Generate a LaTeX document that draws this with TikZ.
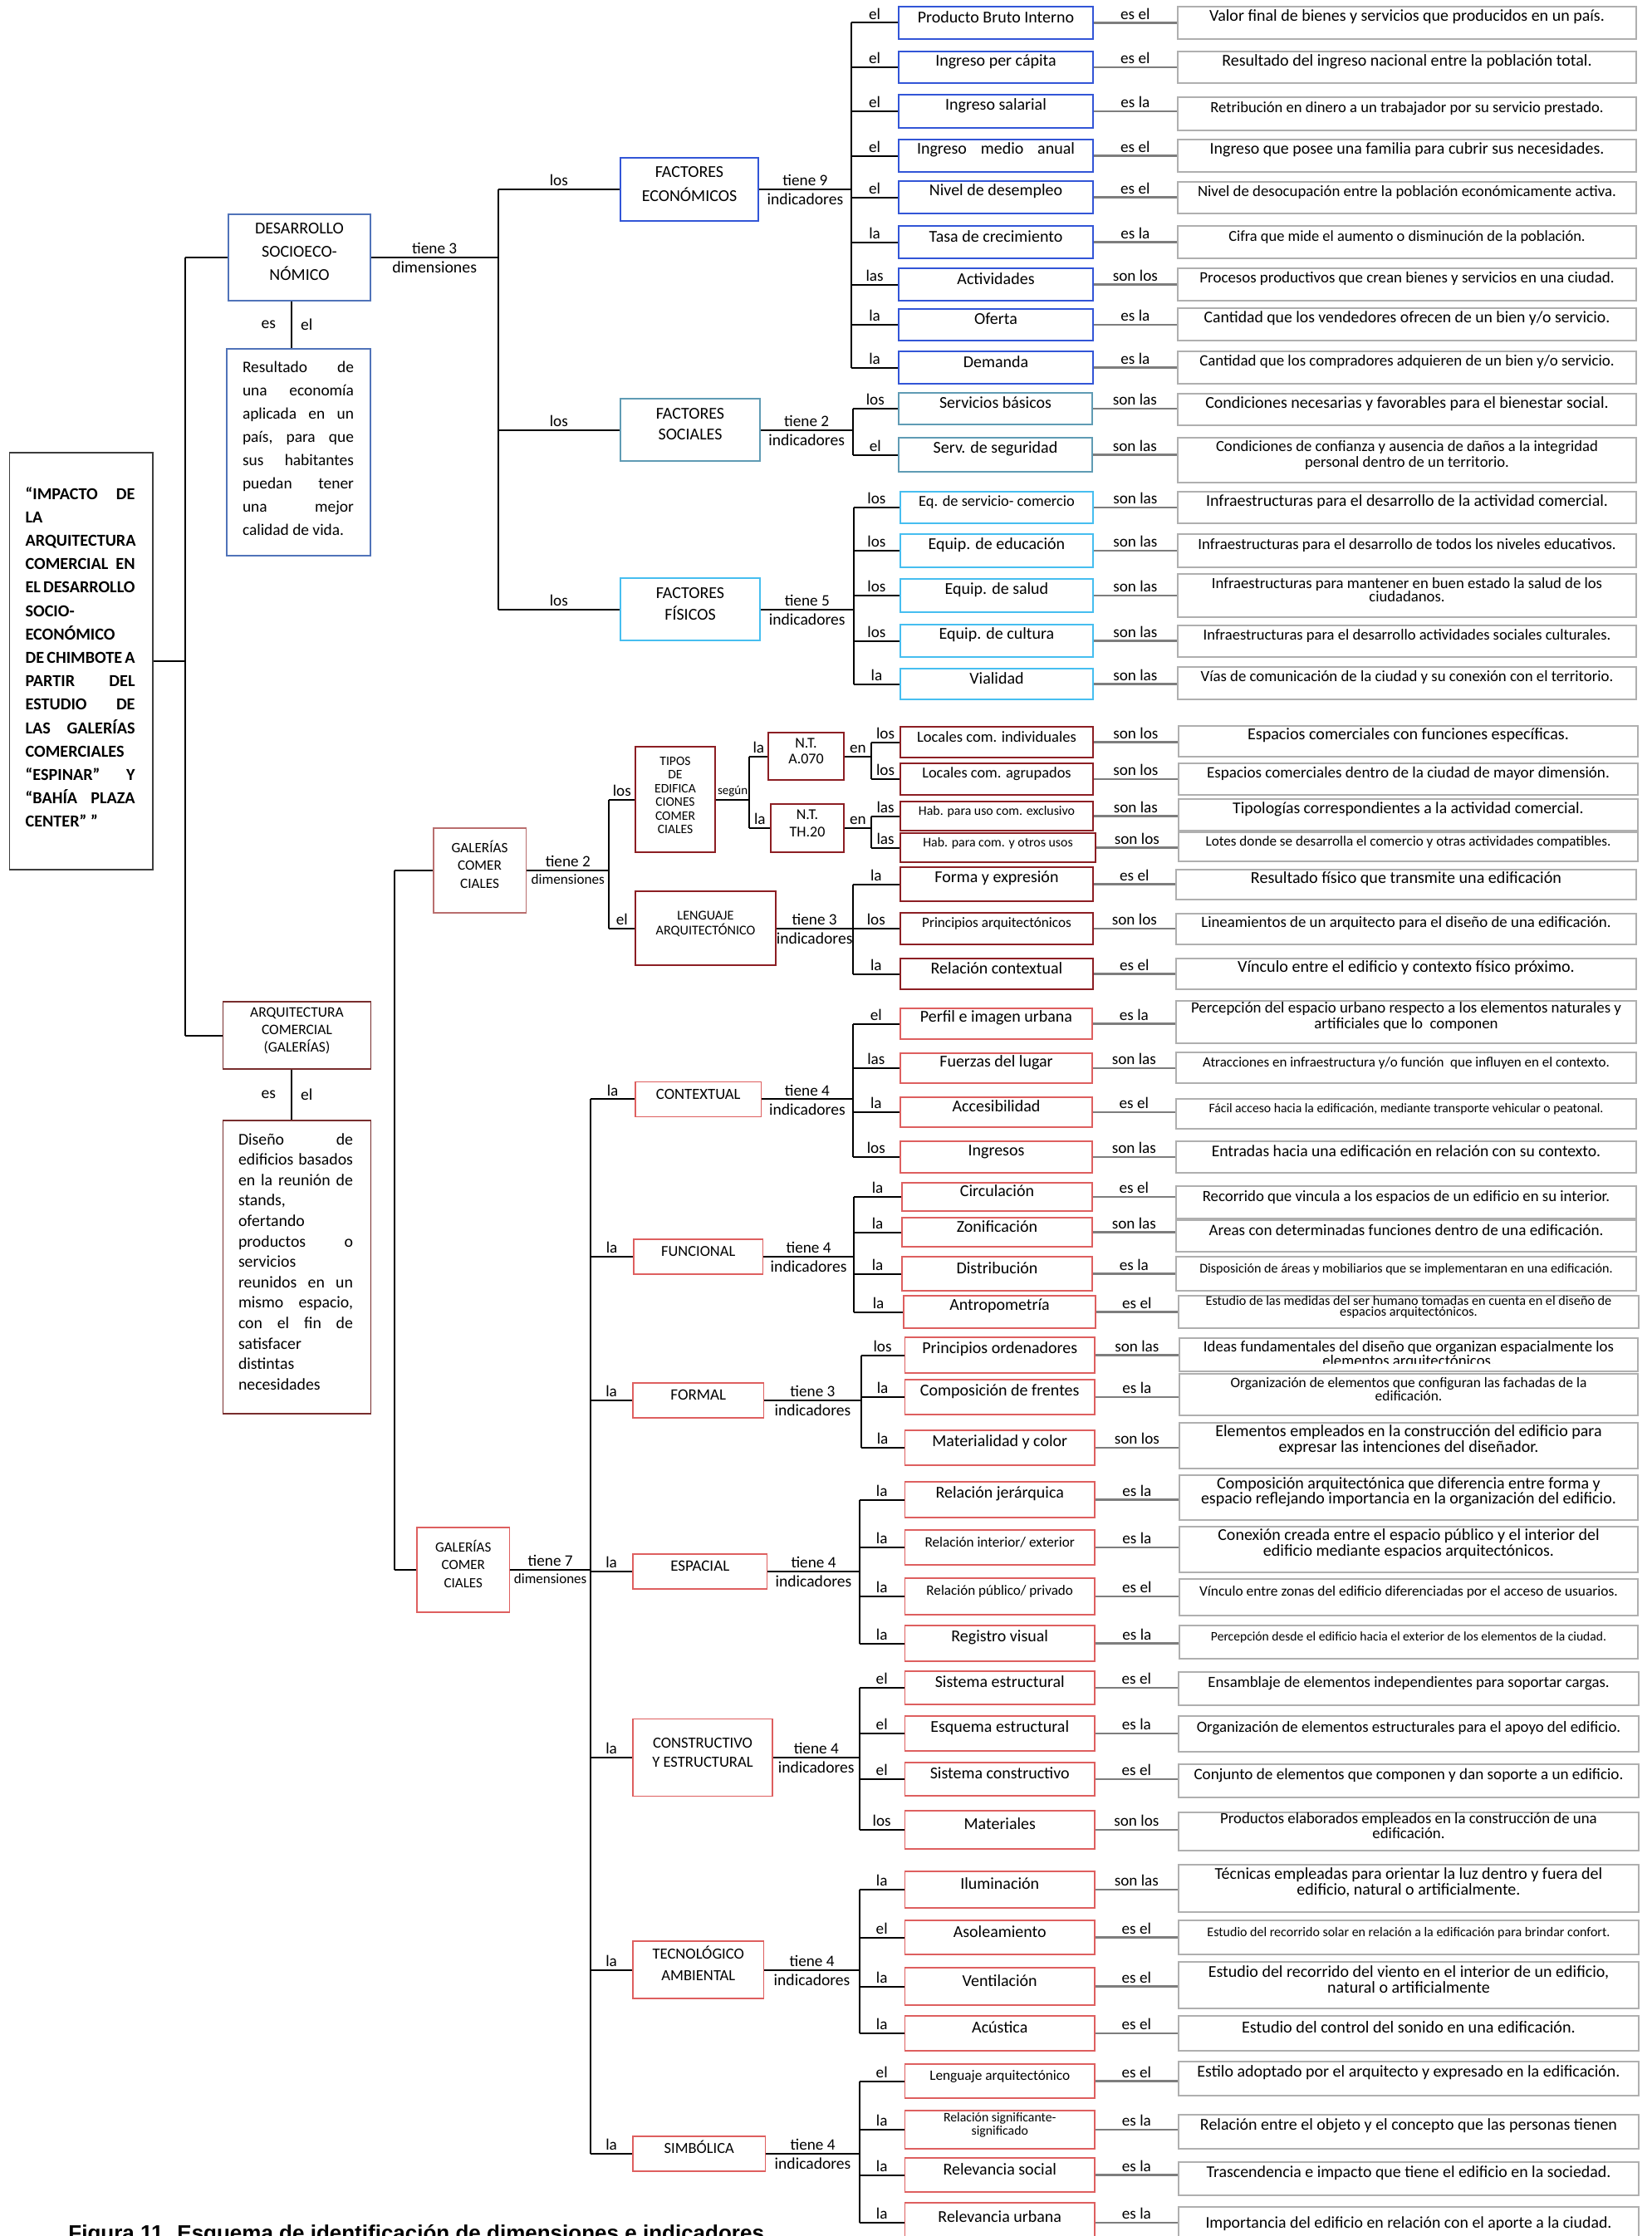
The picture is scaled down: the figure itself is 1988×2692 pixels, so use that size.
\documentclass[tikz,border=0pt]{standalone}
\usepackage{fontspec}
\setmainfont{Carlito}
\newfontfamily\capfont{Liberation Sans}
\usetikzlibrary{fit}
\definecolor{cEco}{RGB}{50,85,215}
\definecolor{cSoc}{RGB}{95,155,180}
\definecolor{cFis}{RGB}{70,190,240}
\definecolor{cDes}{RGB}{80,115,185}
\definecolor{cDR}{RGB}{140,30,35}
\definecolor{cGal}{RGB}{185,110,110}
\definecolor{cLR}{RGB}{222,95,95}
\definecolor{cDesc}{RGB}{175,175,175}
\definecolor{cLink}{RGB}{125,125,125}
\definecolor{cMain}{RGB}{60,60,60}
\definecolor{cArq}{RGB}{120,45,45}
\newcommand\FS[2]{\fontsize{#1}{#2}\selectfont}
\newcommand\J[2][66pt]{\hbox to #1{#2}}
\newcommand\IB[5]{\node[ib,#1,fit={(#3) (#4)}] (#2) {#5};}
\newcommand\DB[5]{\node[dsc,#1,fit={(#3) (#4)}] (#2) {#5};}
\newcommand\RW[5]{\draw[tree] (#2.west -| #1) -- node[tl]{#4} (#2.west);
  \draw[lnk] (#2.east) -- node[tl]{#5} (#2.east -| #3.west);}
\begin{document}
\lineskiplimit=-50pt
\lineskip=0pt
\begin{tikzpicture}[x=0.5pt,y=-0.5pt,
  tree/.style={draw=black,line width=1pt},
  lnk/.style={draw=cLink,line width=1.1pt},
  tl/.style={above,inner sep=1.5pt,font=\FS{9.6}{10}},
  lab/.style={inner sep=2pt,font=\FS{9.8}{10}},
  ib/.style={draw,line width=0.8pt,inner sep=0pt,align=center,font=\FS{10}{11}},
  dsc/.style={draw=cDesc,line width=1.1pt,inner sep=0pt,align=center,font=\FS{9.5}{10}},
  dim/.style={draw,line width=0.8pt,inner sep=0pt,align=center},
  jbox/.style={draw,line width=0.8pt,inner sep=0pt},
  jtext/.style={anchor=base west,inner sep=0pt,outer sep=0pt}]
\fill[white] (0,0) rectangle (1988,2692);
\useasboundingbox (0,0) rectangle (1988,2692);

% ---------------- bracket coordinates
\coordinate (bE) at (1025,0);
\coordinate (bS) at (1026.5,0);
\coordinate (bP) at (1027.7,0);
\coordinate (bA) at (1049,0);
\coordinate (bL) at (1026.5,0);
\coordinate (bC) at (1026.5,0);
\coordinate (bF) at (1028,0);
\coordinate (bFo) at (1036.5,0);
\coordinate (bEs) at (1034.7,0);
\coordinate (vM) at (223,0);
\coordinate (vD) at (599.5,0);
\coordinate (vG) at (475,0);
\coordinate (vG1) at (733.4,0);
\coordinate (vT) at (902.4,0);
\coordinate (vG2) at (711,0);
\coordinate (vEs) at (351,0);

% ---------------- Economic
\IB{draw=cEco}{e1}{1082,8}{1316,47}{Producto Bruto Interno}
\DB{font=\FS{10}{10}}{d1}{1418,8}{1970,47}{Valor final de bienes y servicios que producidos en un país.}
\RW{bE}{e1}{d1}{el}{es el}
\IB{draw=cEco}{e2}{1082,62}{1316,100}{Ingreso per cápita}
\DB{font=\FS{10}{10}}{d2}{1418,62}{1970,100}{Resultado del ingreso nacional entre la población total.}
\RW{bE}{e2}{d2}{el}{es el}
\IB{draw=cEco}{e3}{1082,114}{1316,154}{Ingreso salarial}
\DB{font=\FS{9.3}{10}}{d3}{1418,117}{1970,157}{Retribución en dinero a un trabajador por su servicio prestado.}
\RW{bE}{e3}{d3}{el}{es la}
\IB{draw=cEco}{e4}{1082,168}{1316,207}{\makebox[95pt][s]{Ingreso medio anual}}
\DB{font=\FS{9.97}{10}}{d4}{1418,168}{1970,207}{Ingreso que posee una familia para cubrir sus necesidades.}
\RW{bE}{e4}{d4}{el}{es el}
\IB{draw=cEco}{e5}{1082,218}{1316,257}{Nivel de desempleo}
\DB{font=\FS{9.4}{10}}{d5}{1418,219}{1970,257}{Nivel de desocupación entre la población económicamente activa.}
\RW{bE}{e5}{d5}{el}{es el}
\IB{draw=cEco}{e6}{1082,272}{1316,311}{Tasa de crecimiento}
\DB{font=\FS{9.2}{10}}{d6}{1418,272}{1970,311}{Cifra que mide el aumento o disminución de la población.}
\RW{bE}{e6}{d6}{la}{es la}
\IB{draw=cEco}{e7}{1082,323}{1316,362}{Actividades}
\DB{font=\FS{9.47}{10}}{d7}{1418,323}{1970,362}{Procesos productivos que crean bienes y servicios en una ciudad.}
\RW{bE}{e7}{d7}{las}{son los}
\IB{draw=cEco}{e8}{1082,372}{1316,410}{Oferta}
\DB{font=\FS{9.86}{10}}{d8}{1418,371}{1970,410}{Cantidad que los vendedores ofrecen de un bien y/o servicio.}
\RW{bE}{e8}{d8}{la}{es la}
\IB{draw=cEco}{e9}{1082,423}{1316,462}{Demanda}
\DB{font=\FS{9.46}{10}}{d9}{1418,423}{1970,462}{Cantidad que los compradores adquieren de un bien y/o servicio.}
\RW{bE}{e9}{d9}{la}{es la}
\draw[tree] (e1.west -| bE) -- (e9.west -| bE);

% ---------------- Social
\IB{draw=cSoc}{s1}{1082,473}{1315,511}{Servicios básicos}
\DB{font=\FS{10}{10}}{ds1}{1418,474}{1970,512}{Condiciones necesarias y favorables para el bienestar social.}
\RW{bS}{s1}{ds1}{los}{son las}
\IB{draw=cSoc}{s2}{1082,527}{1315,568}{Serv. de seguridad}
\DB{font=\FS{9.33}{9.5}}{ds2}{1418,527}{1970,581}{Condiciones de confianza y ausencia de daños a la integridad\\personal dentro de un territorio.}
\RW{bS}{s2}{ds2}{el}{son las}
\draw[tree] (s1.west -| bS) -- (s2.west -| bS);

% ---------------- Physical
\IB{draw=cFis,font=\FS{9.2}{10}}{p1}{1084,592}{1316,630}{Eq. de servicio- comercio}
\DB{font=\FS{9.98}{10}}{dp1}{1418,592}{1970,630}{Infraestructuras para el desarrollo de la actividad comercial.}
\RW{bP}{p1}{dp1}{los}{son las}
\IB{draw=cFis}{p2}{1084,643}{1316,683}{Equip. de educación}
\DB{font=\FS{9.4}{10}}{dp2}{1418,643}{1970,683}{Infraestructuras para el desarrollo de todos los niveles educativos.}
\RW{bP}{p2}{dp2}{los}{son las}
\IB{draw=cFis}{p3}{1084,697}{1316,737}{Equip. de salud}
\DB{font=\FS{9.35}{8}}{dp3}{1418,691}{1970,743}{Infraestructuras para mantener en buen estado la salud de los\\ciudadanos.}
\RW{bP}{p3}{dp3}{los}{son las}
\IB{draw=cFis}{p4}{1084,752}{1316,791}{Equip. de cultura}
\DB{font=\FS{9.3}{10}}{dp4}{1418,753}{1970,791}{Infraestructuras para el desarrollo actividades sociales culturales.}
\RW{bP}{p4}{dp4}{los}{son las}
\IB{draw=cFis}{p5}{1084,805}{1316,842}{Vialidad}
\DB{font=\FS{9.4}{10}}{dp5}{1418,803}{1970,842}{Vías de comunicación de la ciudad y su conexión con el territorio.}
\RW{bP}{p5}{dp5}{la}{son las}
\draw[tree] (p1.west -| bP) -- (p5.west -| bP);

% ---------------- Tipos de edificaciones
\IB{draw=cDR,font=\FS{9.3}{10}}{t1}{1084,875}{1316,912}{Locales com. individuales}
\DB{font=\FS{10.06}{10}}{dt1}{1419,874}{1972,911}{Espacios comerciales con funciones específicas.}
\RW{bA}{t1}{dt1}{los}{son los}
\IB{draw=cDR,font=\FS{9.2}{10}}{t2}{1084,919}{1316,957}{Locales com. agrupados}
\DB{font=\FS{9.56}{10}}{dt2}{1419,919}{1972,957}{Espacios comerciales dentro de la ciudad de mayor dimensión.}
\RW{bA}{t2}{dt2}{los}{son los}
\draw[tree] (t1.west -| bA) -- (t2.west -| bA);
\IB{draw=cDR,font=\FS{7.94}{9}}{t3}{1084,965}{1316,1000}{Hab. para uso com. exclusivo}
\DB{font=\FS{9.9}{10}}{dt3}{1419,962}{1972,1000}{Tipologías correspondientes a la actividad comercial.}
\RW{bA}{t3}{dt3}{las}{son las}
\IB{draw=cDR,font=\FS{7.94}{9}}{t4}{1084,1003}{1319,1038}{Hab. para com. y otros usos}
\DB{font=\FS{8.57}{10}}{dt4}{1419,1002}{1972,1037}{Lotes donde se desarrolla el comercio y otras actividades compatibles.}
\RW{bA}{t4}{dt4}{las}{son los}
\draw[tree] (t3.west -| bA) -- (t4.west -| bA);

% ---------------- Lenguaje arquitectonico
\IB{draw=cDR}{l1}{1084,1044}{1316,1085}{Forma y expresión}
\DB{font=\FS{10.05}{10}}{dl1}{1416,1047}{1970,1083}{Resultado físico que transmite una edificación}
\RW{bL}{l1}{dl1}{la}{es el}
\IB{draw=cDR,font=\FS{8.6}{9}}{l2}{1084,1099}{1316,1137}{Principios arquitectónicos}
\DB{font=\FS{9.43}{10}}{dl2}{1416,1100}{1970,1137}{Lineamientos de un arquitecto para el diseño de una edificación.}
\RW{bL}{l2}{dl2}{los}{son los}
\IB{draw=cDR}{l3}{1084,1154}{1316,1191}{Relación contextual}
\DB{font=\FS{10.05}{10}}{dl3}{1416,1154}{1970,1191}{Vínculo entre el edificio y contexto físico próximo.}
\RW{bL}{l3}{dl3}{la}{es el}
\draw[tree] (l1.west -| bL) -- (l3.west -| bL);

% ---------------- Contextual
\IB{draw=cLR}{c1}{1084,1214}{1315,1251}{Perfil e imagen urbana}
\DB{font=\FS{9.44}{7.8}}{dc1}{1416,1205}{1970,1256}{Percepción del espacio urbano respecto a los elementos naturales y\\artificiales que lo\ \ componen}
\RW{bC}{c1}{dc1}{el}{es la}
\IB{draw=cLR}{c2}{1084,1268}{1315,1304}{Fuerzas del lugar}
\DB{font=\FS{8.5}{10}}{dc2}{1416,1267}{1970,1304}{Atracciones en infraestructura y/o función\ \ que influyen en el contexto.}
\RW{bC}{c2}{dc2}{las}{son las}
\IB{draw=cLR}{c3}{1084,1321}{1315,1357}{Accesibilidad}
\DB{font=\FS{7.85}{10}}{dc3}{1416,1323}{1970,1359}{Fácil acceso hacia la edificación, mediante transporte vehicular o peatonal.}
\RW{bC}{c3}{dc3}{la}{es el}
\IB{draw=cLR}{c4}{1084,1374}{1315,1412}{Ingresos}
\DB{font=\FS{9.82}{10}}{dc4}{1416,1374}{1970,1412}{Entradas hacia una edificación en relación con su contexto.}
\RW{bC}{c4}{dc4}{los}{son las}
\draw[tree] (c1.west -| bC) -- (c4.west -| bC);

% ---------------- Funcional
\IB{draw=cLR}{f1}{1086,1424}{1315,1458}{Circulación}
\DB{font=\FS{9.4}{10}}{df1}{1416,1428}{1970,1467}{Recorrido que vincula a los espacios de un edificio en su interior.}
\RW{bF}{f1}{df1}{la}{es el}
\IB{draw=cLR}{f2}{1086,1466}{1315,1501}{Zonificación}
\DB{font=\FS{9.57}{10}}{df2}{1416,1469}{1970,1507}{Areas con determinadas funciones dentro de una edificación.}
\RW{bF}{f2}{df2}{la}{son las}
\IB{draw=cLR}{f3}{1086,1513}{1315,1554}{Distribución}
\DB{font=\FS{8.05}{10}}{df3}{1416,1513}{1970,1554}{Disposición de áreas y mobiliarios que se implementaran en una edificación.}
\RW{bF}{f3}{df3}{la}{es la}
\IB{draw=cLR}{f4}{1088,1560}{1319,1599}{Antropometría}
\DB{font=\FS{8.1}{5.5}}{df4}{1419,1560}{1973,1599}{Estudio de las medidas del ser humano tomadas en cuenta en el diseño de\\espacios arquitectónicos.}
\RW{bF}{f4}{df4}{la}{es el}
\draw[tree] (f1.west -| bF) -- (f4.west -| bF);

% ---------------- Formal
\IB{draw=cLR}{o1}{1089.5,1610}{1318,1653}{Principios ordenadores}
\DB{}{do1}{1420,1611}{1972,1651}{}
\begin{scope}
\clip (1420,1611) rectangle (1972,1641);
\node[align=center,inner sep=0pt,font=\FS{9.4}{8.5}] (do1t) at (do1) {Ideas fundamentales del diseño que organizan espacialmente los\\elementos arquitectónicos.};
\end{scope}
\RW{bFo}{o1}{do1}{los}{son las}
\IB{draw=cLR}{o2}{1089.5,1661}{1318,1703}{Composición de frentes}
\DB{font=\FS{8.7}{8}}{do2}{1420,1654}{1972,1704}{Organización de elementos que configuran las fachadas de la\\edificación.}
\RW{bFo}{o2}{do2}{la}{es la}
\IB{draw=cLR}{o3}{1089.5,1722}{1318,1764}{Materialidad y color}
\DB{font=\FS{10}{9.2}}{do3}{1420,1713}{1972,1768}{Elementos empleados en la construcción del edificio para\\expresar las intenciones del diseñador.}
\RW{bFo}{o3}{do3}{la}{son los}
\draw[tree] (o1.west -| bFo) -- (o3.west -| bFo);

% ---------------- Espacial
\IB{draw=cLR}{x1}{1089.5,1784}{1318,1827}{Relación jerárquica}
\DB{font=\FS{10}{9.3}}{dx1}{1420,1776}{1972,1830}{Composición arquitectónica que diferencia entre forma y\\espacio reflejando importancia en la organización del edificio.}
\RW{bEs}{x1}{dx1}{la}{es la}
\IB{draw=cLR,font=\FS{8.6}{9}}{x2}{1089.5,1842}{1318,1884}{Relación interior/ exterior}
\DB{font=\FS{10}{9.5}}{dx2}{1420,1838}{1972,1893}{Conexión creada entre el espacio público y el interior del\\edificio mediante espacios arquitectónicos.}
\RW{bEs}{x2}{dx2}{la}{es la}
\IB{draw=cLR,font=\FS{8.55}{9}}{x3}{1089.5,1900}{1318,1944}{Relación público/ privado}
\DB{font=\FS{8.7}{10}}{dx3}{1420,1901}{1972,1945}{Vínculo entre zonas del edificio diferenciadas por el acceso de usuarios.}
\RW{bEs}{x3}{dx3}{la}{es el}
\IB{draw=cLR}{x4}{1089.5,1957}{1318,2000}{Registro visual}
\DB{font=\FS{7.8}{10}}{dx4}{1420,1957}{1972,1997}{Percepción desde el edificio hacia el exterior de los elementos de la ciudad.}
\RW{bEs}{x4}{dx4}{la}{es la}
\draw[tree] (x1.west -| bEs) -- (x4.west -| bEs);

% ---------------- Constructivo
\IB{draw=cLR}{k1}{1089.5,2012}{1318,2052}{Sistema estructural}
\DB{font=\FS{9.4}{10}}{dk1}{1419,2013}{1973,2053}{Ensamblaje de elementos independientes para soportar cargas.}
\RW{bEs}{k1}{dk1}{el}{es el}
\IB{draw=cLR}{k2}{1089.5,2066}{1318,2108}{Esquema estructural}
\DB{font=\FS{9.4}{10}}{dk2}{1419,2066}{1973,2109}{Organización de elementos estructurales para el apoyo del edificio.}
\RW{bEs}{k2}{dk2}{el}{es la}
\IB{draw=cLR}{k3}{1089.5,2122}{1318,2162}{Sistema constructivo}
\DB{font=\FS{9.56}{10}}{dk3}{1419,2124}{1973,2164}{Conjunto de elementos que componen y dan soporte a un edificio.}
\RW{bEs}{k3}{dk3}{el}{es el}
\IB{draw=cLR}{k4}{1089.5,2180}{1318,2226}{Materiales}
\DB{font=\FS{9.4}{6.7}}{dk4}{1419,2182}{1973,2228}{Productos elaborados empleados en la construcción de una\\edificación.}
\RW{bEs}{k4}{dk4}{los}{son los}
\draw[tree] (k1.west -| bEs) -- (k4.west -| bEs);

% ---------------- Tecnologico
\IB{draw=cLR}{g1}{1089.5,2253}{1318,2297}{Iluminación}
\DB{font=\FS{10}{9.5}}{dg1}{1419,2245}{1973,2302}{Técnicas empleadas para orientar la luz dentro y fuera del\\edificio, natural o artificialmente.}
\RW{bEs}{g1}{dg1}{la}{son las}
\IB{draw=cLR}{g2}{1089.5,2312}{1318,2353}{Asoleamiento}
\DB{font=\FS{8}{10}}{dg2}{1419,2312}{1973,2353}{Estudio del recorrido solar en relación a la edificación para brindar confort.}
\RW{bEs}{g2}{dg2}{el}{es el}
\IB{draw=cLR}{g3}{1089.5,2369}{1318,2414}{Ventilación}
\DB{font=\FS{10}{9.7}}{dg3}{1419,2362}{1973,2418}{Estudio del recorrido del viento en el interior de un edificio,\\natural o artificialmente}
\RW{bEs}{g3}{dg3}{la}{es el}
\IB{draw=cLR}{g4}{1089.5,2427}{1318,2469}{Acústica}
\DB{font=\FS{10.1}{10}}{dg4}{1419,2427}{1973,2469}{Estudio del control del sonido en una edificación.}
\RW{bEs}{g4}{dg4}{la}{es el}
\draw[tree] (g1.west -| bEs) -- (g4.west -| bEs);

% ---------------- Simbolica
\IB{draw=cLR,font=\FS{8.65}{9}}{y1}{1089.5,2485}{1318,2526}{Lenguaje arquitectónico}
\DB{font=\FS{10}{10}}{dy1}{1419,2482}{1973,2523}{Estilo adoptado por el arquitecto y expresado en la edificación.}
\RW{bEs}{y1}{dy1}{el}{es el}
\IB{draw=cLR,font=\FS{7.9}{6.5}}{y2}{1089.5,2541}{1318,2587}{Relación significante-\\significado}
\DB{font=\FS{10}{10}}{dy2}{1419,2546}{1973,2587}{Relación entre el objeto y el concepto que las personas tienen}
\RW{bEs}{y2}{dy2}{la}{es la}
\IB{draw=cLR}{y3}{1089.5,2598}{1318,2639}{Relevancia social}
\DB{font=\FS{9.94}{10}}{dy3}{1419,2603}{1973,2643}{Trascendencia e impacto que tiene el edificio en la sociedad.}
\RW{bEs}{y3}{dy3}{la}{es la}
\IB{draw=cLR}{y4}{1089.5,2652}{1318,2700}{Relevancia urbana}
\DB{font=\FS{9.9}{10}}{dy4}{1419,2657}{1973,2712}{Importancia del edificio en relación con el aporte a la ciudad.}
\RW{bEs}{y4}{dy4}{la}{es la}
\draw[tree] (y1.west -| bEs) -- (y4.west -| bEs);

% ---------------- Left: main and first level
\node[jbox,draw=cMain,fit={(11.5,545) (184,1047)}] (main) {};
\node[jtext] (maint) at (30.6,601)
 {\parbox[t]{66pt}{\bfseries\FS{10.1}{14.1}\noindent\J{“IMPACTO\hfil DE}\\LA\\ARQUITECTURA\\\J{COMERCIAL\hfil EN}\\\J{EL\hfil DESARROLLO}\\SOCIO-\\ECONÓMICO\\\J{DE\hfil CHIMBOTE\hfil A}\\\J{PARTIR\hfil DEL}\\\J{ESTUDIO\hfil DE}\\\J{LAS\hfil GALERÍAS}\\COMERCIALES\\\J{“ESPINAR”\hfil Y}\\\J{“BAHÍA\hfil PLAZA}\\CENTER” ”}};
\node[dim,draw=cDes,fit={(275,258) (446,362)},font=\FS{10}{14}] (des) {DESARROLLO\\SOCIOECO-\\NÓMICO};
\node[jbox,draw=cDes,fit={(273,420) (446,669)}] (desd) {};
\node[jtext] (desdt) at (292,448)
 {\parbox[t]{67pt}{\FS{9.7}{14.05}\noindent\J[67pt]{Resultado\hfil de}\\\J[67pt]{una\hfil economía}\\\J[67pt]{aplicada\hfil en\hfil un}\\\J[67pt]{país,\hfil para\hfil que}\\\J[67pt]{sus\hfil habitantes}\\\J[67pt]{puedan\hfil tener}\\\J[67pt]{una\hfil mejor}\\calidad de vida.}};
\node[dim,draw=cArq,fit={(268.5,1206) (446.4,1287)},font=\FS{8.75}{10.5}] (arq) {ARQUITECTURA\\COMERCIAL\\(GALERÍAS)};
\node[jbox,draw=cArq,fit={(268.5,1349) (446.4,1702)}] (arqd) {};
\node[jtext] (arqdt) at (287,1378)
 {\parbox[t]{69pt}{\FS{9.9}{12.3}\noindent\J[69pt]{Diseño\hfil de}\\\J[69pt]{edificios\hfil basados}\\\J[69pt]{en\hfil la\hfil reunión\hfil de}\\stands,\\ofertando\\\J[69pt]{productos\hfil o}\\servicios\\\J[69pt]{reunidos\hfil en\hfil un}\\\J[69pt]{mismo\hfil espacio,}\\\J[69pt]{con\hfil el\hfil fin\hfil de}\\satisfacer\\distintas\\necesidades}};
\draw[tree] (main.east) -- (main.east -| vM);
\draw[tree] (des.west -| vM) -- (arq.west -| vM);
\draw[tree] (des.west -| vM) -- (des.west);
\draw[tree] (arq.west -| vM) -- (arq.west);
\draw[tree] (des.south -| vEs) -- node[left,lab,inner sep=9pt]{es} node[right,lab,inner sep=5pt]{el} (desd.north -| vEs);
\draw[tree] (arq.south -| vEs) -- node[left,lab,inner sep=9pt]{es} node[right,lab,inner sep=5pt]{el} (arqd.north -| vEs);

% ---------------- Factores
\node[dim,draw=cEco,fit={(747,190) (913,266)},font=\FS{10}{14.5}] (fe) {FACTORES\\ECONÓMICOS};
\node[dim,draw=cSoc,fit={(747,480) (915,555)},font=\FS{10}{12.5}] (fs) {FACTORES\\SOCIALES};
\node[dim,draw=cFis,fit={(747,696) (915,771)},font=\FS{10}{13}] (ff) {FACTORES\\FÍSICOS};
\draw[tree] (des.east) -- node[tl]{tiene 3} node[below,lab,font=\FS{9.9}{10}]{dimensiones} (des.east -| vD);
\draw[tree] (fe.west -| vD) -- (ff.west -| vD);
\draw[tree] (fe.west -| vD) -- node[tl]{los} (fe.west);
\draw[tree] (fs.west -| vD) -- node[tl]{los} (fs.west);
\draw[tree] (ff.west -| vD) -- node[tl]{los} (ff.west);
\draw[tree] (fe.east) -- node[tl]{tiene 9} node[below,lab]{indicadores} (fe.east -| bE);
\draw[tree] (fs.east) -- node[tl]{tiene 2} node[below,lab]{indicadores} (fs.east -| bS);
\draw[tree] (ff.east) -- node[tl]{tiene 5} node[below,lab]{indicadores} (ff.east -| bP);

% ---------------- Galerias (upper)
\node[dim,draw=cGal,fit={(521.7,997) (633.3,1099)},font=\FS{8.6}{10.7}] (gal1) {GALERÍAS\\COMER\\CIALES};
\node[dim,draw=cDR,fit={(765,899) (861,1026)},font=\FS{7.8}{8.2}] (tip) {TIPOS\\DE\\EDIFICA\\CIONES\\COMER\\CIALES};
\node[dim,draw=cDR,fit={(925,882) (1016,939)},font=\FS{9}{9.5}] (nt1) {N.T.\\A.070};
\node[dim,draw=cDR,fit={(928,968) (1016,1026)},font=\FS{9}{10.5}] (nt2) {N.T.\\TH.20};
\node[dim,draw=cDR,fit={(765,1073) (934,1162)},font=\FS{8.1}{9.2}] (len) {LENGUAJE\\ARQUITECTÓNICO};
\node[dim,draw=cLR,fit={(502,1839) (613.5,1941)},font=\FS{8.5}{10.7}] (gal2) {GALERÍAS\\COMER\\CIALES};
\draw[tree] (gal1.west -| vG) -- (gal2.west -| vG);
\draw[tree] (gal1.west -| vG) -- (gal1.west);
\draw[tree] (gal2.west -| vG) -- (gal2.west);
\draw[tree] (gal1.east) -- node[tl]{tiene 2} node[below,lab,font=\FS{8.6}{9}]{dimensiones} (gal1.east -| vG1);
\draw[tree] (tip.west -| vG1) -- (len.west -| vG1);
\draw[tree] (tip.west -| vG1) -- node[tl]{los} (tip.west);
\draw[tree] (len.west -| vG1) -- node[tl]{el} (len.west);
\draw[tree] (tip.east) -- node[above,inner sep=1pt,font=\FS{7.5}{8}]{según} (tip.east -| vT);
\draw[tree] (nt1.west -| vT) -- (nt2.west -| vT);
\draw[tree] (nt1.west -| vT) -- node[tl]{la} (nt1.west);
\draw[tree] (nt2.west -| vT) -- node[tl]{la} (nt2.west);
\draw[tree] (nt1.east) -- node[tl]{en} (nt1.east -| bA);
\draw[tree] (nt2.east) -- node[tl]{en} (nt2.east -| bA);
\draw[tree] (len.east) -- node[tl]{tiene 3} node[below,lab]{indicadores} (len.east -| bL);

% ---------------- Galerias (lower) dimensions
\node[dim,draw=cLR,fit={(765,1302.5) (916.5,1344.3)},font=\FS{9.35}{10}] (ctx) {CONTEXTUAL};
\node[dim,draw=cLR,fit={(763,1492) (918.4,1534)},font=\FS{9.2}{10}] (fun) {FUNCIONAL};
\node[dim,draw=cLR,fit={(762,1665) (919.6,1707)},font=\FS{9.5}{10}] (frm) {FORMAL};
\node[dim,draw=cLR,fit={(762,1871) (923.5,1913)},font=\FS{9.5}{10}] (esp) {ESPACIAL};
\node[dim,draw=cLR,fit={(762,2069.5) (930,2162.5)},font=\FS{9.3}{11.7}] (con) {CONSTRUCTIVO\\Y ESTRUCTURAL};
\node[dim,draw=cLR,fit={(762,2337) (919.6,2406)},font=\FS{9.3}{12.6}] (tec) {TECNOLÓGICO\\AMBIENTAL};
\node[dim,draw=cLR,fit={(762,2572) (921.6,2614)},font=\FS{9.25}{10}] (sim) {SIMBÓLICA};
\draw[tree] (gal2.east) -- node[tl]{tiene 7} node[below,lab,font=\FS{8.5}{9}]{dimensiones} (gal2.east -| vG2);
\draw[tree] (ctx.west -| vG2) -- (sim.west -| vG2);
\foreach \d in {ctx,fun,frm,esp,con,tec,sim}
  \draw[tree] (\d.west -| vG2) -- node[tl]{la} (\d.west);
\draw[tree] (ctx.east) -- node[tl]{tiene 4} node[below,lab]{indicadores} (ctx.east -| bC);
\draw[tree] (fun.east) -- node[tl]{tiene 4} node[below,lab]{indicadores} (fun.east -| bF);
\draw[tree] (frm.east) -- node[tl]{tiene 3} node[below,lab]{indicadores} (frm.east -| bFo);
\draw[tree] (esp.east) -- node[tl]{tiene 4} node[below,lab]{indicadores} (esp.east -| bEs);
\draw[tree] (con.east) -- node[tl]{tiene 4} node[below,lab]{indicadores} (con.east -| bEs);
\draw[tree] (tec.east) -- node[tl]{tiene 4} node[below,lab]{indicadores} (tec.east -| bEs);
\draw[tree] (sim.east) -- node[tl]{tiene 4} node[below,lab]{indicadores} (sim.east -| bEs);

% ---------------- caption
\node[anchor=base west,inner sep=0pt,font=\capfont\bfseries\FS{13}{14}] (cap) at (82,2697) {Figura 11. Esquema de identificación de dimensiones e indicadores};
\end{tikzpicture}
\end{document}
